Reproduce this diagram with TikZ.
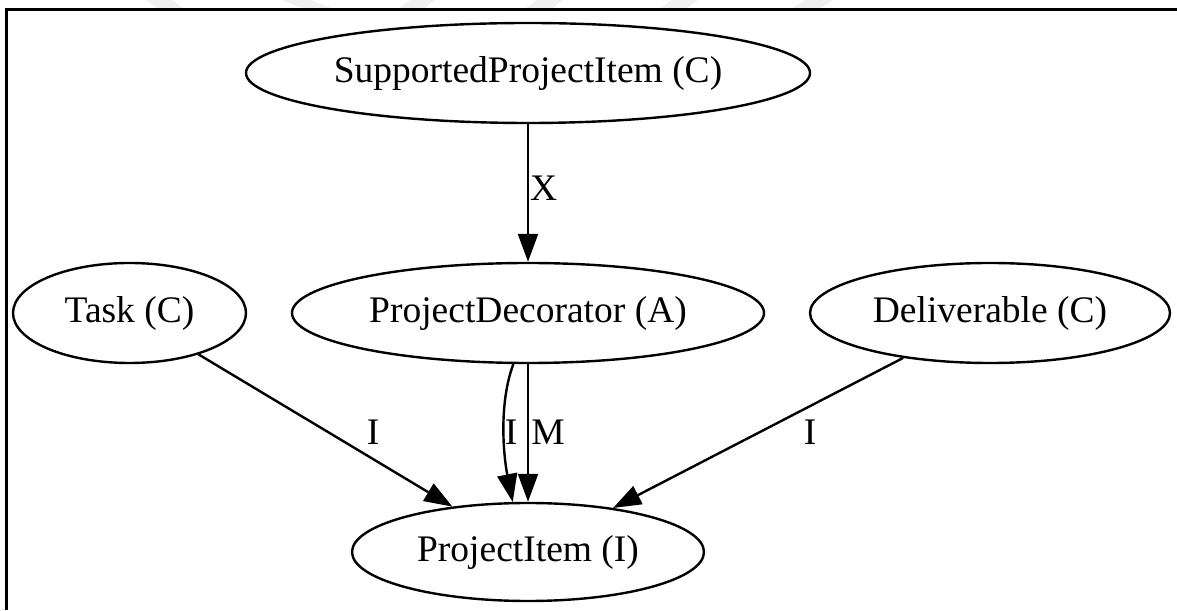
\documentclass[tikz,border=0pt]{standalone}
\usepackage{fontspec}
\setmainfont{Liberation Serif}
\usetikzlibrary{shapes.geometric,arrows.meta}
\begin{document}
\begin{tikzpicture}[x=1pt,y=1pt,
  cls/.style={ellipse,draw,line width=2.4pt,inner sep=0pt,
              font=\fontsize{37.5}{40}\selectfont},
  dep/.style={line width=2.4pt,-{Triangle[length=28pt,width=20pt]}},
  lbl/.style={inner sep=0pt,font=\fontsize{37.5}{40}\selectfont},
  stripe/.style={fill=black!6}]
\useasboundingbox (0,0) rectangle (1177,610);
\fill[white] (0,0) rectangle (1177,610);
% faint stripes along the top edge
\fill[stripe] (146,610) -- (172,610) -- (184,601) -- (158,601) -- cycle;
\fill[stripe] (281,610) -- (310,610) -- (334,601) -- (305,601) -- cycle;
\fill[stripe] (410,610) -- (435,610) -- (423,601) -- (398,601) -- cycle;
\fill[stripe] (537,610) -- (563,610) -- (551,601) -- (525,601) -- cycle;
\fill[stripe] (672,610) -- (698,610) -- (686,601) -- (660,601) -- cycle;
\fill[stripe] (805,610) -- (833,610) -- (819,601) -- (791,601) -- cycle;
% frame
\draw[line width=3pt,black] (6,0) -- (6,600) -- (1177,600);
% classes
\node[cls,minimum width=564pt,minimum height=100pt] (spi) at (528,537)
  {\makebox[0pt]{SupportedProjectItem (C)}};
\node[cls,minimum width=472pt,minimum height=100pt] (pd) at (528,297)
  {\makebox[0pt]{ProjectDecorator (A)}};
\node[cls,minimum width=233pt,minimum height=100pt] (task) at (129.5,297)
  {\makebox[0pt]{Task (C)}};
\node[cls,minimum width=360pt,minimum height=100pt] (del) at (990,297)
  {\makebox[0pt]{Deliverable (C)}};
\node[cls,minimum width=352pt,minimum height=98pt] (pi) at (528,58)
  {\makebox[0pt]{ProjectItem (I)}};
% dependencies
\draw[dep] (spi.south) -- (pd.north);
\node[lbl,anchor=west] (lx) at (530,422) {X};
\draw[dep] (task) -- (pi);
\node[lbl] (lt) at (373,178) {I};
\draw[dep] (del) -- (pi);
\node[lbl] (ld) at (810,178) {I};
\draw[dep] (pd.254) .. controls +(-15,-40) and +(-9,45) .. (pi.107);
\node[lbl] (lc) at (511,178) {I};
\draw[dep] (pd.south) -- (pi.north);
\node[lbl] (lm) at (548,178) {M};
\end{tikzpicture}
\end{document}
